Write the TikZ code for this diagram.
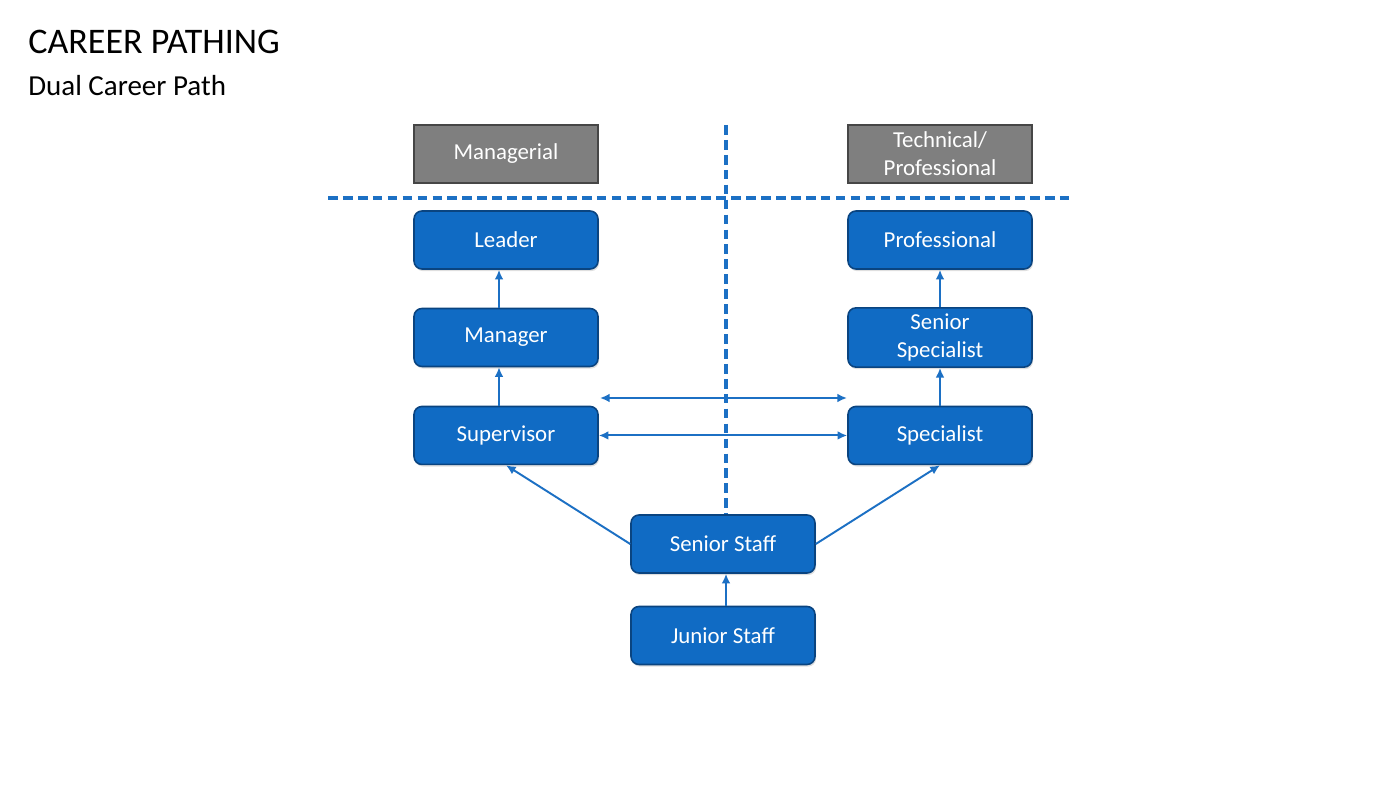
\documentclass[tikz,border=0pt]{standalone}
\usepackage{fontspec}
\setmainfont{Carlito}
\usetikzlibrary{arrows.meta,positioning,shadows}
\definecolor{pathblue}{RGB}{16,107,196}
\definecolor{pathedge}{RGB}{10,68,128}
\definecolor{linkblue}{RGB}{28,112,196}
\definecolor{headgray}{RGB}{127,127,127}
\definecolor{headedge}{RGB}{70,70,70}
\tikzset{
    block/.style = {draw=pathedge, fill=pathblue, rounded corners=4.5pt, line width=0.9pt,
        minimum height=1.16cm, minimum width=3.68cm, align=center, text=white,
        font=\fontsize{13}{16}\selectfont,
        drop shadow={opacity=0.25, shadow xshift=0.6pt, shadow yshift=-1.2pt}},
    header/.style = {draw=headedge, fill=headgray, line width=0.9pt,
        minimum height=1.16cm, minimum width=3.68cm, align=center, text=white,
        font=\fontsize{13}{16}\selectfont},
    arrow/.style = {draw=linkblue, line width=1.1pt, -{Latex[length=5.5pt,width=5pt]}},
    twoway/.style = {arrow, {Latex[length=5.5pt,width=5pt]}-{Latex[length=5.5pt,width=5pt]}},
    divider/.style = {draw=linkblue, line width=2pt, dash pattern=on 5.5pt off 3pt}
}

\begin{document}
\begin{tikzpicture}[x=0.02cm, y=-0.02cm]
    \useasboundingbox [fill=white] (0,0) rectangle (1400,790);
    % titles
    \node [anchor=base west, inner sep=0pt, font=\fontsize{20.5}{24}\selectfont] (title) at (28,54) {CAREER PATHING};
    \node [anchor=base west, inner sep=0pt, font=\fontsize{16.5}{20}\selectfont] (subtitle) at (28,96) {Dual Career Path};
    % divider lines
    \coordinate (vtop) at (726,125);
    \coordinate (vbot) at (726,515);
    \coordinate (hleft) at (328,198);
    \coordinate (hright) at (1070,198);
    \draw [divider] (vtop) -- (vbot);
    \draw [divider] (hleft) -- (hright);
    % track headers
    \node [header] (managerial) at (506,154) {Managerial};
    \node [header] (technical) at (940,154) {Technical/\\Professional};
    % managerial track
    \node [block] (leader) at (506,240) {Leader};
    \node [block, below of=leader, node distance=1.95cm] (manager) {Manager};
    \node [block, below of=manager, node distance=1.96cm] (supervisor) {Supervisor};
    % technical track
    \node [block] (professional) at (940,240) {Professional};
    \node [block, below of=professional, node distance=1.95cm] (srspecialist) {Senior\\Specialist};
    \node [block, below of=srspecialist, node distance=1.96cm] (specialist) {Specialist};
    % staff
    \node [block] (srstaff) at (723,544) {Senior Staff};
    \node [block, below of=srstaff, node distance=1.83cm] (jrstaff) {Junior Staff};
    % connectors
    \draw [arrow] ([xshift=-0.14cm]manager.north) -- ([xshift=-0.14cm]leader.south);
    \draw [arrow] ([xshift=-0.14cm]supervisor.north) -- ([xshift=-0.14cm]manager.south);
    \draw [arrow] (srspecialist) -- (professional);
    \draw [arrow] (specialist) -- (srspecialist);
    \draw [arrow] ([xshift=0.06cm]jrstaff.north) -- ([xshift=0.06cm]srstaff.south);
    \draw [arrow] (srstaff.west) -- (supervisor.south);
    \draw [arrow] (srstaff.east) -- (specialist.south);
    \draw [twoway] (supervisor) -- (specialist);
    \coordinate (mgrgap) at (600,398);
    \coordinate (spcgap) at (847,398);
    \draw [twoway] (mgrgap) -- (spcgap);
\end{tikzpicture}
\end{document}
